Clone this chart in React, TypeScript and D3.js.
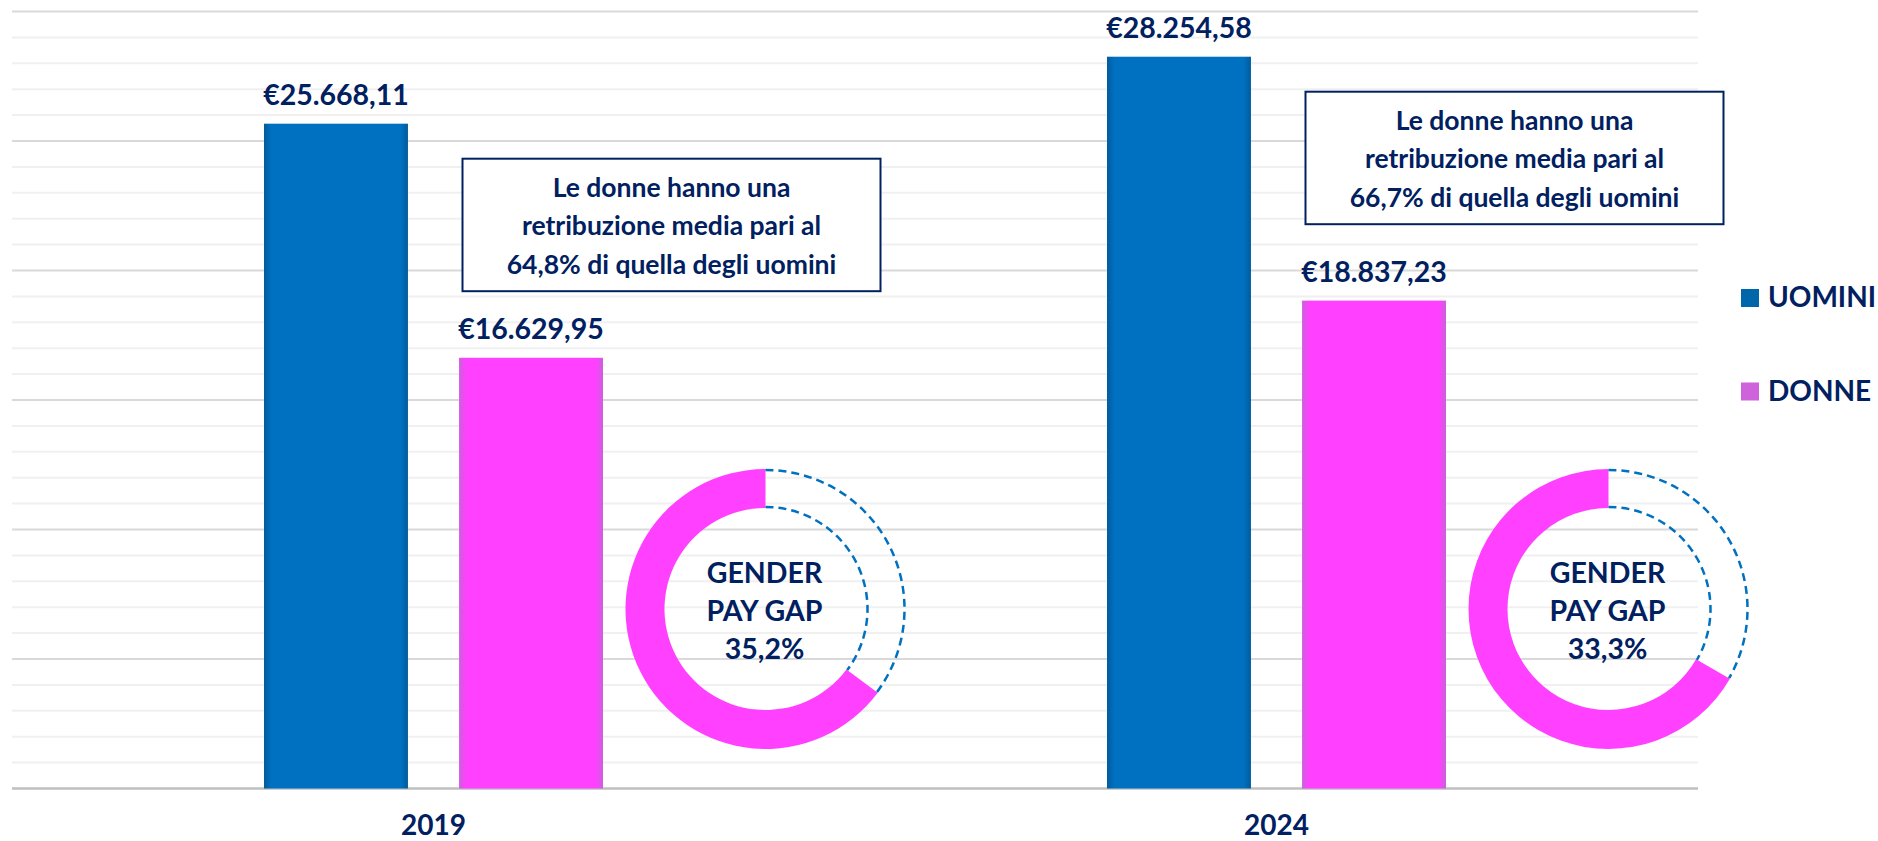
import React from "react";
import * as d3 from "d3";

const categories = ["2019", "2024"];
const seriesNames = ["UOMINI", "DONNE"];
const uomini = [25668.11, 28254.58];
const donne = [16629.95, 18837.23];
const payGap = [35.2, 33.3];
const ratio = [64.8, 66.7];
const minorTicks = d3.range(1000, 30001, 1000);

const W = 1878;
const H = 841;
const NAVY = "#002060";
const FONT = "Lato, 'Open Sans', sans-serif";

const itLocale = d3.formatLocale({
  decimal: ",",
  thousands: ".",
  grouping: [3],
  currency: ["€", ""],
});
const fmtEuro = itLocale.format("$,.2f");
const fmtPct = itLocale.format(".1f");

export default function App() {
  const x0 = d3.scaleBand<string>().domain(categories).range([12, 1698]).padding(0);
  const x1 = d3
    .scaleBand<string>()
    .domain(seriesNames)
    .range([-169.5, 169.5])
    .paddingInner(0.262)
    .paddingOuter(0);
  const y = d3.scaleLinear().domain([0, 30000]).range([788.5, 11.5]);
  const bw = x1.bandwidth();
  const values = [uomini, donne];
  const fills = ["url(#gBlue)", "url(#gPink)"];

  return (
    <svg
      width={W}
      height={H}
      style={{ position: "absolute", left: 0, top: 0, background: "#fff" }}
      fontFamily={FONT}
    >
      <defs>
        <linearGradient id="gBlue" x1="0" x2="1" y1="0" y2="0">
          <stop offset="0" stopColor="#005c9c" />
          <stop offset="0.05" stopColor="#0070C0" />
          <stop offset="0.95" stopColor="#0070C0" />
          <stop offset="1" stopColor="#005c9c" />
        </linearGradient>
        <linearGradient id="gPink" x1="0" x2="1" y1="0" y2="0">
          <stop offset="0" stopColor="#cc60dc" />
          <stop offset="0.05" stopColor="#FF40FF" />
          <stop offset="0.95" stopColor="#FF40FF" />
          <stop offset="1" stopColor="#cc60dc" />
        </linearGradient>
      </defs>

      {/* gridlines */}
      {minorTicks.map((t) => (
        <line
          key={t}
          x1={12}
          x2={1698}
          y1={y(t)}
          y2={y(t)}
          stroke={t % 5000 === 0 ? "#D9D9D9" : "#F0F0F0"}
          strokeWidth={2}
        />
      ))}
      <line x1={12} x2={1698} y1={y(0)} y2={y(0)} stroke="#BFBFBF" strokeWidth={2.5} />

      {categories.map((c, ci) => {
        const cx = (x0(c) as number) + x0.bandwidth() / 2;
        const boxTop = y(uomini[ci]) + 35;
        const boxLeft = cx + 29;
        const boxW = 418;
        const boxH = 132.5;
        const dcx = cx + 332;
        const dcy = 609;
        const theta = (payGap[ci] / 100) * Math.PI * 2;
        const arc = d3
          .arc()
          .innerRadius(101)
          .outerRadius(140)
          .startAngle(theta)
          .endAngle(Math.PI * 2);
        const outer = d3.path();
        outer.arc(dcx, dcy, 139, -Math.PI / 2, -Math.PI / 2 + theta);
        const inner = d3.path();
        inner.arc(dcx, dcy, 102, -Math.PI / 2, -Math.PI / 2 + theta);
        const lines = [
          "Le donne hanno una",
          "retribuzione media pari al",
          `${fmtPct(ratio[ci])}% di quella degli uomini`,
        ];
        return (
          <g key={c}>
            {seriesNames.map((s, si) => {
              const bx = cx + (x1(s) as number);
              const v = values[si][ci];
              return (
                <g key={s}>
                  <rect x={bx} y={y(v)} width={bw} height={y(0) - y(v)} fill={fills[si]} />
                  <text
                    x={bx + bw / 2}
                    y={y(v) - 19}
                    textAnchor="middle"
                    fontWeight={700}
                    fontSize={28.5}
                    fill={NAVY}
                  >
                    {fmtEuro(v)}
                  </text>
                </g>
              );
            })}
            <text x={cx} y={835} textAnchor="middle" fontWeight={700} fontSize={28} fill={NAVY}>
              {c}
            </text>

            {/* annotation box */}
            <rect
              x={boxLeft}
              y={boxTop}
              width={boxW}
              height={boxH}
              fill="#fff"
              stroke={NAVY}
              strokeWidth={2}
            />
            {lines.map((l, li) => (
              <text
                key={li}
                x={boxLeft + boxW / 2}
                y={boxTop + 38 + li * 38.7}
                textAnchor="middle"
                fontWeight={700}
                fontSize={26.5}
                fill={NAVY}
              >
                {l}
              </text>
            ))}

            {/* donut */}
            <path d={arc({} as any) as string} transform={`translate(${dcx},${dcy})`} fill="#FF40FF" />
            <path d={outer.toString()} fill="none" stroke="#0070C0" strokeWidth={2.5} strokeDasharray="8 5" />
            <path d={inner.toString()} fill="none" stroke="#0070C0" strokeWidth={2.5} strokeDasharray="8 5" />
            {["GENDER", "PAY GAP", `${fmtPct(payGap[ci])}%`].map((t, ti) => (
              <text
                key={ti}
                x={dcx - 1}
                y={583 + ti * 37.8}
                textAnchor="middle"
                fontWeight={700}
                fontSize={28.5}
                fill={NAVY}
              >
                {t}
              </text>
            ))}
          </g>
        );
      })}

      {/* legend */}
      {seriesNames.map((s, si) => (
        <g key={s} transform={`translate(1741,${289 + si * 93.5})`}>
          <rect width={18} height={18} fill={si === 0 ? "#0066AA" : "#CF63DB"} />
          <text x={27} y={18} fontWeight={700} fontSize={28} fill={NAVY}>
            {s}
          </text>
        </g>
      ))}
    </svg>
  );
}
